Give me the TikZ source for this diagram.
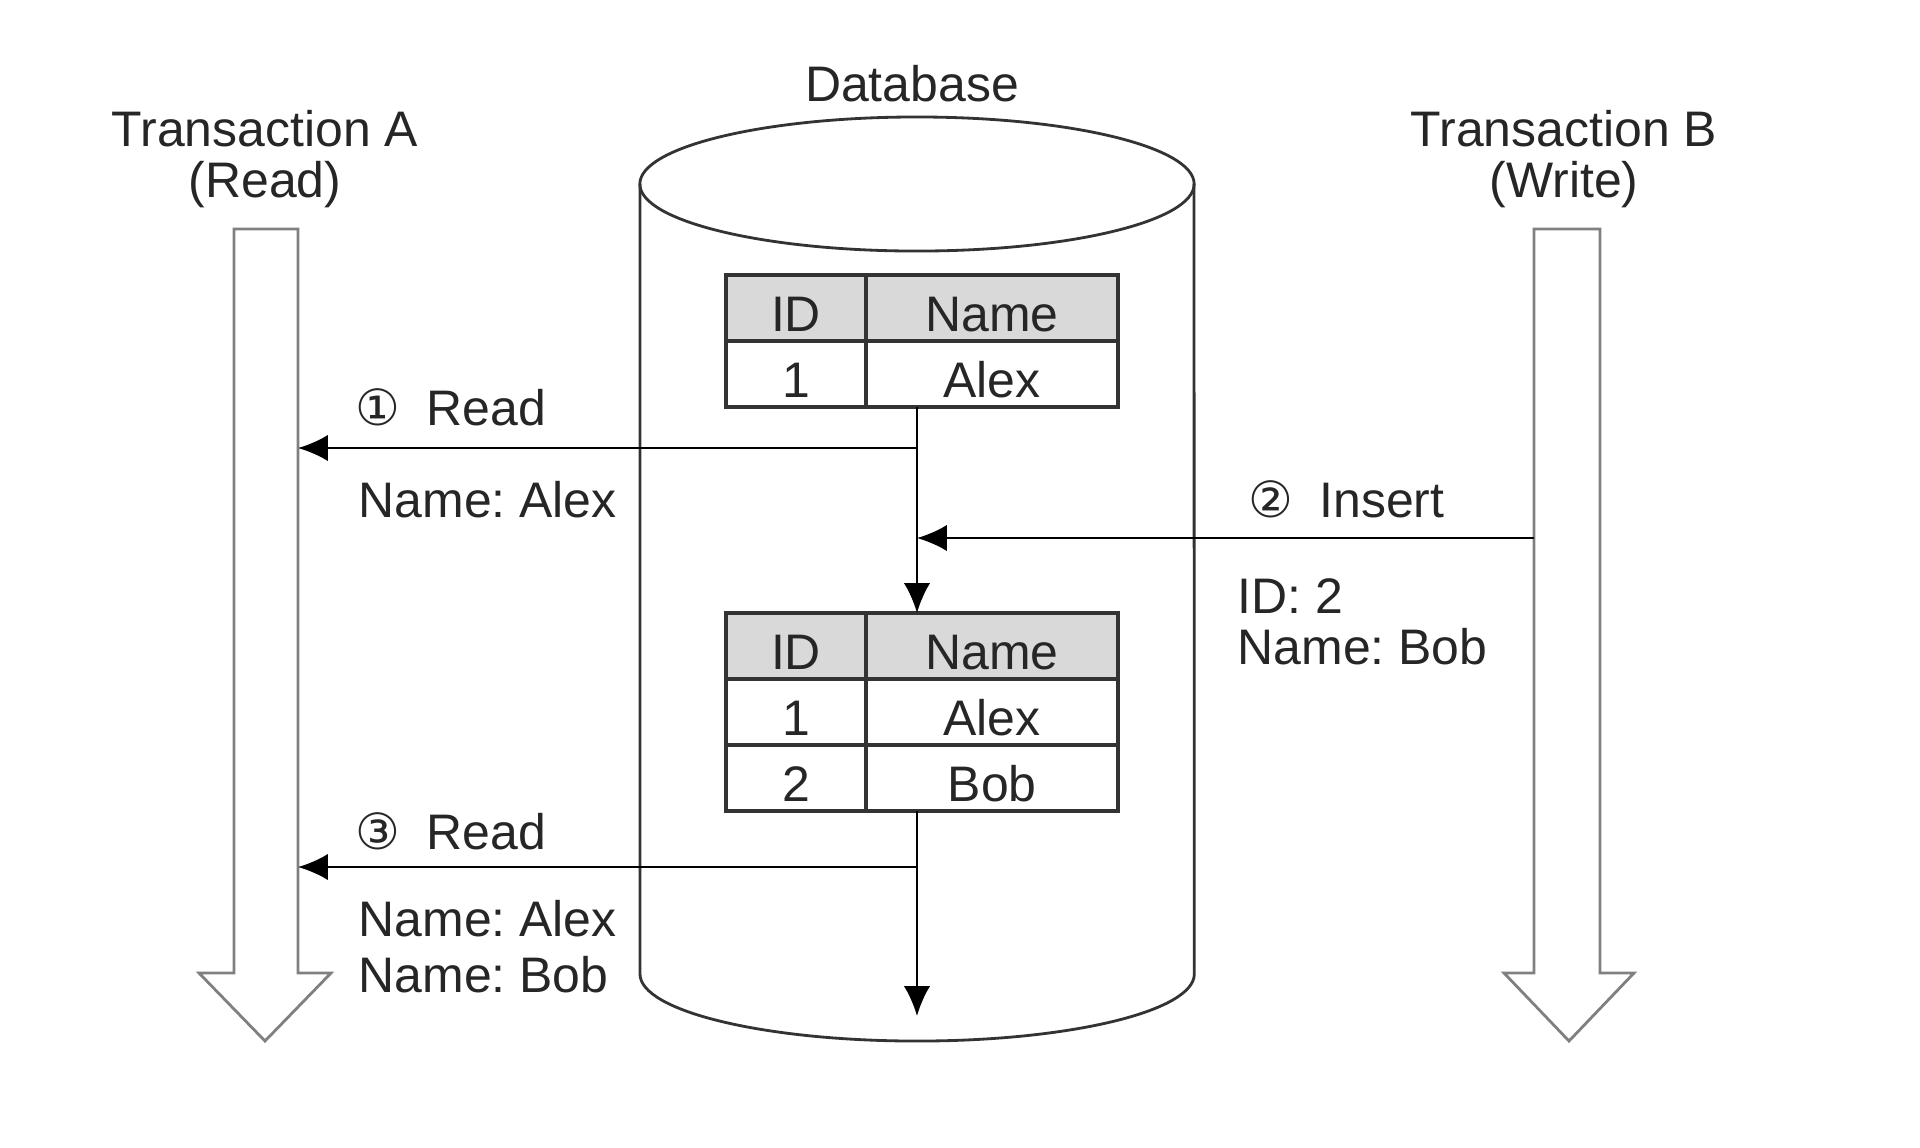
\documentclass[tikz,border=0pt]{standalone}
\usepackage{fontspec}
\setmainfont{Liberation Sans}
\newfontfamily\circfont{DejaVu Sans}
\usetikzlibrary{positioning, arrows.meta}
\frenchspacing

\begin{document}
\begin{tikzpicture}[>={Latex[length=8.5pt,width=7.5pt]}, x=0.01cm, y=-0.01cm,
    lbl/.style={inner sep=0pt, text=black!85, font=\fontsize{14.2pt}{14.5pt}\selectfont},
    cell/.style={lbl, draw=black!80, line width=1pt, outer sep=0pt,
        minimum height=0.66cm, text height=0.46cm, text depth=0pt},
    idcell/.style={cell, minimum width=1.4cm},
    namecell/.style={cell, minimum width=2.52cm},
    head/.style={fill=black!15},
    hollow/.style={draw=black!50, line width=0.8pt, line join=miter},
    dbline/.style={draw=black!80, line width=0.8pt},
    link/.style={->, line width=0.7pt}]

    \useasboundingbox (0,0) rectangle (1920,1147);

    \draw(265,110) node[lbl, anchor=north, align=center] (TA) {Transaction A\\(Read)};
    \draw(1564,110) node[lbl, anchor=north, align=center] (TB) {Transaction B\\(Write)};
    \draw(912,101) node[lbl, anchor=base] (DB) {Database};

    \draw[hollow] (234,229) -- (298,229) coordinate (TAedge) -- (298,973) -- (331,973)
        -- (265,1041) -- (199,973) -- (234,973) -- cycle;
    \draw[hollow] (1534,229) coordinate (TBedge) -- (1600,229) -- (1600,973) -- (1634,973)
        -- (1569,1041) -- (1504,973) -- (1534,973) -- cycle;

    \coordinate (dbc) at (917,184);
    \draw[dbline] (dbc) ellipse [x radius=2.77cm, y radius=0.67cm];
    \draw[dbline] (640,184) -- (640,974) arc[start angle=180, end angle=360,
        x radius=2.77cm, y radius=0.67cm] -- (1194,184);

    \node[idcell, head, anchor=north west] (t1hid) at (726,275) {ID};
    \node[namecell, head, right=0pt of t1hid] (t1hname) {Name};
    \node[idcell, below=0pt of t1hid] (t1id) {1};
    \node[namecell, below=0pt of t1hname] (t1name) {Alex};

    \node[idcell, head, anchor=north west] (t2hid) at (726,613) {ID};
    \node[namecell, head, right=0pt of t2hid] (t2hname) {Name};
    \node[idcell, below=0pt of t2hid] (t2id1) {1};
    \node[namecell, below=0pt of t2hname] (t2name1) {Alex};
    \node[idcell, below=0pt of t2id1] (t2id2) {2};
    \node[namecell, below=0pt of t2name1] (t2name2) {Bob};

    \coordinate (r1) at (917,448);
    \coordinate (ins) at (1534,538);
    \coordinate (r3) at (917,867);
    \coordinate (dbend) at (917,1016);

    \draw[link] (dbc |- t1name.south) -- (dbc |- t2hname.north);
    \draw[link] (r1) -- (r1 -| TAedge);
    \draw[link] (ins) -- (ins -| dbc);
    \draw[link] (dbc |- t2name2.south) -- (dbend);
    \draw[link] (r3) -- (r3 -| TAedge);

    \draw(355,425) node[lbl, anchor=base west] (l1) {{\circfont ①}\hspace{0.26cm}Read};
    \draw(358,517) node[lbl, anchor=base west] (v1) {Name: Alex};
    \draw(1248,517) node[lbl, anchor=base west] (l2) {{\circfont ②}\hspace{0.26cm}Insert};
    \draw(1237,578) node[lbl, anchor=north west, align=left] (v2) {ID: 2\\Name: Bob};
    \draw(355,849) node[lbl, anchor=base west] (l3) {{\circfont ③}\hspace{0.26cm}Read};
    \draw(358,900) node[lbl, anchor=north west, align=left] (v3) {Name: Alex\\[1.4pt]Name: Bob};

\end{tikzpicture}
\end{document}
